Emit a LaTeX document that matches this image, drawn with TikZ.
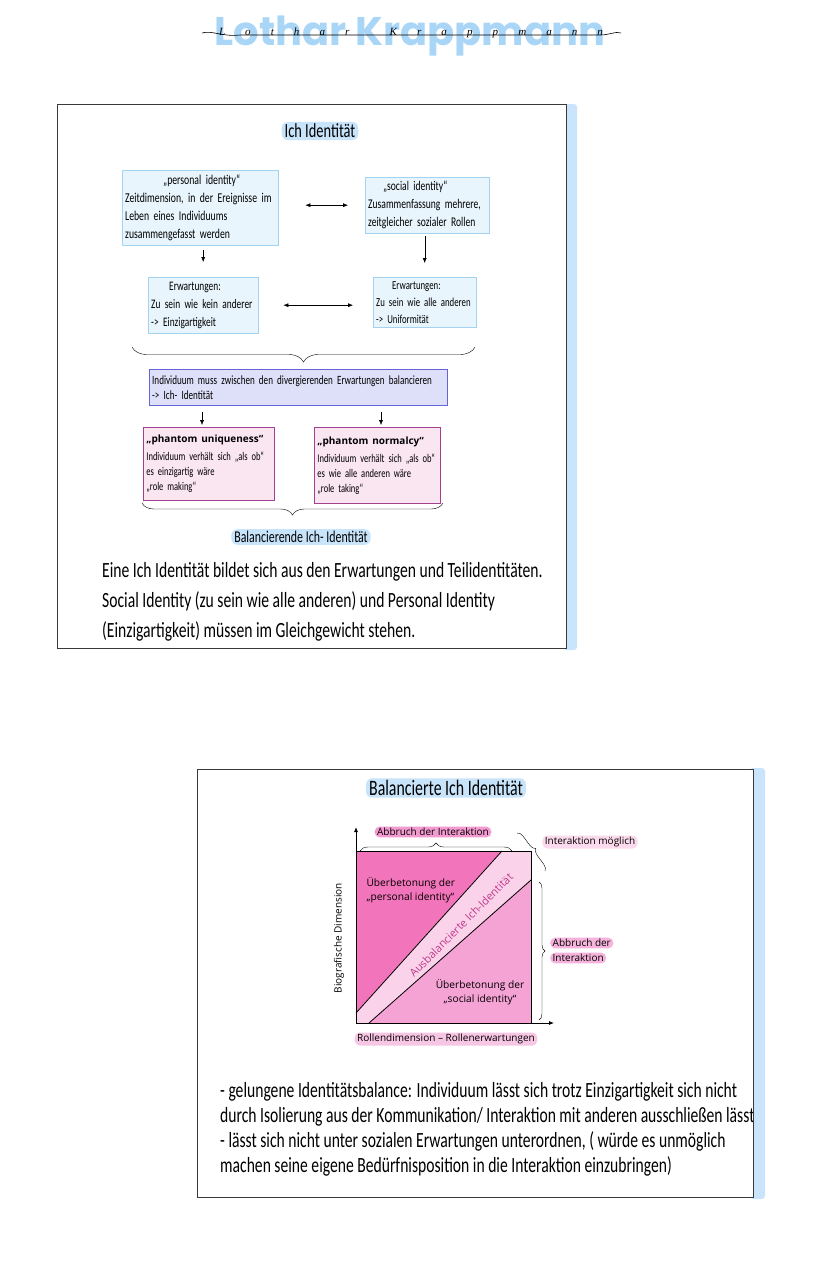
\documentclass[tikz,border=0pt]{standalone}
\usepackage{fontspec}
\setmainfont{Carlito}[FakeStretch=0.72]
\newfontfamily\roundfont{Open Sans}
\newfontfamily\namefont{Poppins}
\newfontfamily\signfont{Liberation Serif}
\newcommand\phfont{\roundfont\bfseries\fontsize{10}{12}\selectfont}
\usetikzlibrary{decorations.pathreplacing,arrows.meta}

\definecolor{namecol}{HTML}{A9D5F6}
\definecolor{markblue}{HTML}{C8E4FA}
\definecolor{barblue}{HTML}{C9E4FB}
\definecolor{frame}{HTML}{3A3A3A}
\definecolor{idfill}{HTML}{E9F5FD}
\definecolor{idborder}{HTML}{A3D3F0}
\definecolor{balfill}{HTML}{DEDFF8}
\definecolor{balborder}{HTML}{6464D8}
\definecolor{phfill}{HTML}{FAE6F1}
\definecolor{phborder}{HTML}{A5408F}
\definecolor{darkpink}{HTML}{F274BA}
\definecolor{midpink}{HTML}{F5A2D5}
\definecolor{bandpink}{HTML}{FAD3EA}
\definecolor{bandtext}{HTML}{C0398A}
\definecolor{pillA}{HTML}{F39AD0}
\definecolor{pillB}{HTML}{FADAEC}
\definecolor{pillC}{HTML}{F6B4DC}
\definecolor{pillD}{HTML}{F7C6E4}

\tikzset{
  idbox/.style={draw=idborder, fill=idfill, anchor=north west, align=left,
    inner xsep=3pt, inner ysep=2pt, font=\fontsize{13.5}{18}\selectfont},
  balbox/.style={idbox, draw=balborder, fill=balfill, font=\fontsize{12.6}{15}\selectfont},
  phbox/.style={idbox, draw=phborder, fill=phfill, line width=0.8pt, font=\fontsize{11.8}{15}\selectfont},
  markb/.style={fill=markblue, rounded corners=6pt, inner xsep=3pt, inner ysep=2pt},
  markp/.style={rounded corners=5pt, inner xsep=2.5pt, inner ysep=1.5pt,
    font=\roundfont\fontsize{10}{12}\selectfont},
  bodytext/.style={anchor=base west, inner sep=0pt, font=\fontsize{21.7}{30}\selectfont},
  brc/.style={decorate, decoration={brace, amplitude=#1}},
}

\begin{document}
\begin{tikzpicture}[x=1pt, y=-1pt, >={Latex[length=5pt,width=4pt]}]
\useasboundingbox (0,0) rectangle (828,1280);

% Titel
\node[anchor=base, inner sep=0pt, text=namecol, font=\namefont\bfseries\fontsize{40}{40}\selectfont] (name) at (410,45) {Lothar Krappmann};
\node[anchor=base, inner sep=0pt, font=\signfont\itshape\fontsize{11}{11}\selectfont] (sign) at (411,35)
  {\hbox to 384pt{L\hfill o\hfill t\hfill h\hfill a\hfill r\hfill\hfill K\hfill r\hfill a\hfill p\hfill p\hfill m\hfill a\hfill n\hfill n}};
\draw[line width=0.6pt] (202,33) .. controls (212,30) and (222,37) .. (240,35) -- (600,35) .. controls (610,35) and (615,31) .. (621,33);

% erster Kasten
\fill[barblue, rounded corners=3pt] (563,104) rectangle (577,650);
\draw[frame, fill=white] (57,104) rectangle (566,648);
\node[markb, font=\fontsize{20}{20}\selectfont] (t1) at (320,131) {Ich Identität};

\node[idbox, text width=150pt, minimum height=75pt] (pers) at (122,170)
  {\hspace*{38pt}„personal identity“\\Zeitdimension, in der Ereignisse im\\Leben eines Individuums\\zusammengefasst werden};
\node[idbox, text width=118pt, minimum height=56pt, font=\fontsize{13.3}{18}\selectfont] (soc) at (365,177)
  {\hspace*{15pt}„social identity“\\Zusammenfassung mehrere,\\zeitgleicher sozialer Rollen};
\node[idbox, text width=104pt, minimum height=56pt, font=\fontsize{13}{18}\selectfont] (erw1) at (148,277)
  {\hspace*{18pt}Erwartungen:\\Zu sein wie kein anderer\\-> Einzigartigkeit};
\node[idbox, text width=97pt, minimum height=50pt, font=\fontsize{12.2}{17}\selectfont] (erw2) at (373,277)
  {\hspace*{16pt}Erwartungen:\\Zu sein wie alle anderen\\-> Uniformität};

\draw[<->, shorten <=27pt, shorten >=17pt] (pers.east |- soc.west) -- (soc.west);
\draw[<->, shorten <=25pt, shorten >=20pt] (erw1.east) -- (erw1.east -| erw2.west);
\draw[->, shorten <=5pt, shorten >=15pt] (erw1.north |- pers.south) -- (erw1.north);
\draw[->, xshift=-6pt, shorten <=3pt, shorten >=14pt] (erw2.north |- soc.south) -- (erw2.north);

\coordinate (b1l) at (132,347);
\coordinate (b1r) at (475,347);
\draw[brc=15pt, decoration={mirror}] (b1l) -- (b1r);

\node[balbox, text width=292pt, minimum height=36pt] (bal) at (149,369)
  {Individuum muss zwischen den divergierenden Erwartungen balancieren\\-> Ich- Identität};

\node[phbox, text width=125pt, minimum height=73pt] (uniq) at (143,427)
  {{\phfont „phantom uniqueness“}\\[3pt]Individuum verhält sich „als ob“\\es einzigartig wäre\\„role making“};
\node[phbox, text width=120pt, minimum height=76pt] (norm) at (314,427)
  {{\phfont „phantom normalcy“}\\[3pt]Individuum verhält sich „als ob“\\es wie alle anderen wäre\\„role taking“};

\draw[->, shorten <=7pt, shorten >=2pt] (bal.south -| 202,0) -- (uniq.north -| 202,0);
\draw[->, shorten <=7pt, shorten >=2pt] (bal.south -| 381,0) -- (norm.north -| 381,0);

\coordinate (b2l) at (142,503);
\coordinate (b2r) at (443,503);
\draw[brc=12pt, decoration={mirror}] (b2l) -- (b2r);
\node[markb, font=\fontsize{16.5}{16.5}\selectfont] (t2) at (301,537) {Balancierende Ich- Identität};

\node[bodytext] (l1) at (102,577) {Eine Ich Identität bildet sich aus den Erwartungen und Teilidentitäten.};
\node[bodytext] (l2) at (102,607) {Social Identity (zu sein wie alle anderen) und Personal Identity};
\node[bodytext] (l3) at (102,637) {(Einzigartigkeit) müssen im Gleichgewicht stehen.};

% zweiter Kasten
\fill[barblue, rounded corners=3pt] (750,768) rectangle (765,1199);
\draw[frame, fill=white] (197,769) rectangle (753,1197);
\node[markb, font=\fontsize{22}{22}\selectfont] (t3) at (446,788) {Balancierte Ich Identität};

\fill[darkpink] (356,851) -- (502,851) -- (356,1013) -- cycle;
\fill[bandpink] (502,851) -- (531,851) -- (531,880) -- (369,1023) -- (356,1023) -- (356,1013) -- cycle;
\fill[midpink] (531,880) -- (531,1023) -- (369,1023) -- cycle;
\draw[line width=0.8pt] (356,851) -- (531,851) -- (531,1023);
\draw[line width=0.8pt] (356,1013) -- (502,851);
\draw[line width=0.8pt] (369,1023) -- (531,880);
\draw[->, line width=0.8pt] (356,1023) -- (356,827);
\draw[->, line width=0.8pt] (356,1023) -- (554,1023);

\node[anchor=north west, align=left, font=\roundfont\fontsize{10.2}{13.5}\selectfont] (ueb1) at (363,874)
  {Überbetonung der\\„personal identity“};
\node[align=center, font=\roundfont\fontsize{10.2}{14.5}\selectfont] (ueb2) at (480,992)
  {Überbetonung der\\„social identity“};
\node[rotate=45, text=bandtext, font=\roundfont\fontsize{11}{12}\selectfont] (ausb) at (461,925) {Ausbalancierte Ich-Identität};
\node[rotate=90, font=\roundfont\fontsize{10}{12}\selectfont] (bio) at (339,938) {Biografische Dimension};

\node[markp, fill=pillA] (abb1) at (433,832) {Abbruch der Interaktion};
\node[markp, fill=pillB] (moegl) at (590,842) {Interaktion möglich};
\node[markp, fill=pillC, anchor=west] (abb2) at (550,943) {Abbruch der};
\node[markp, fill=pillC, anchor=west] (abb3) at (550,958) {Interaktion};
\node[markp, fill=pillD] (rolle) at (446,1039) {Rollendimension – Rollenerwartungen};

\draw[brc=8pt] (360,851) -- (512,851);
\draw[brc=6pt] (517,833) -- (545,871);
\draw[brc=6pt] (539,882) -- (539,1020);

\node[bodytext] (m1) at (220,1097) {- gelungene Identitätsbalance: Individuum lässt sich trotz Einzigartigkeit sich nicht};
\node[bodytext] (m2) at (220,1122) {durch Isolierung aus der Kommunikation/ Interaktion mit anderen ausschließen lässt};
\node[bodytext] (m3) at (220,1147) {- lässt sich nicht unter sozialen Erwartungen unterordnen, ( würde es unmöglich};
\node[bodytext] (m4) at (220,1172) {machen seine eigene Bedürfnisposition in die Interaktion einzubringen)};
\draw[frame] (753,769) -- (753,1197);
\end{tikzpicture}
\end{document}
